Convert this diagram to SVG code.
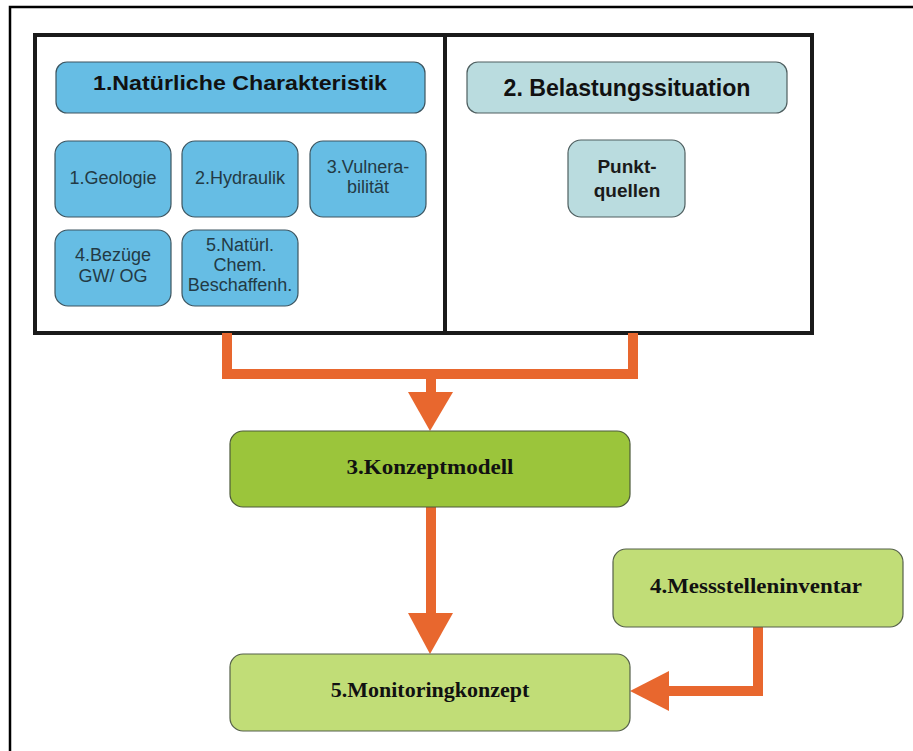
<svg xmlns="http://www.w3.org/2000/svg" width="913" height="751" viewBox="0 0 913 751">
<style>
.blue{fill:#66bde4;stroke:#3d5560;stroke-width:1.2}
.teal{fill:#badcdf;stroke:#4f5f60;stroke-width:1.2}
.green{fill:#9bc53b;stroke:#4d5a3a;stroke-width:1.2}
.lgreen{fill:#c1dd77;stroke:#55604a;stroke-width:1.2}
.hdr{font-family:"Liberation Sans",Arial,sans-serif;font-weight:bold;fill:#111;text-anchor:middle}
.sub{font-family:"Liberation Sans",Arial,sans-serif;font-size:18px;fill:#233a44;text-anchor:middle}
.pq{font-family:"Liberation Sans",Arial,sans-serif;font-weight:bold;font-size:19px;fill:#1a1a1a;text-anchor:middle}
.ser{font-family:"Liberation Serif","Times New Roman",serif;font-weight:bold;font-size:22px;fill:#111;text-anchor:middle}
.wire{fill:none;stroke:#e8672e;stroke-width:10;stroke-linejoin:miter}
.head{fill:#e8672e}
</style>
<rect width="913" height="751" fill="#ffffff"/>
<path d="M10,751 V7 H913" fill="none" stroke="#000" stroke-width="2.5"/>
<g id="frame">
<rect x="35" y="35" width="777" height="298" fill="#fff" stroke="#1a1a1a" stroke-width="4"/>
<line x1="445" y1="35" x2="445" y2="333" stroke="#1a1a1a" stroke-width="4"/>
</g>
<g id="connectors">
<polyline class="wire" points="227,333 227,374 633,374 633,333"/>
<line class="wire" x1="431" y1="374" x2="431" y2="394"/>
<polygon class="head" points="408,392 453,392 430,431"/>
<line class="wire" x1="431" y1="507" x2="431" y2="615"/>
<polygon class="head" points="408,613 453,613 430,654"/>
<polyline class="wire" points="758,627 758,691 667,691"/>
<polygon class="head" points="669,671 669,711 630,691"/>
</g>
<g id="n1">
<rect class="blue" x="56" y="62" width="369" height="51" rx="11"/>
<text class="hdr" x="240" y="90" font-size="21" textLength="294" lengthAdjust="spacingAndGlyphs">1.Natürliche Charakteristik</text>
</g>
<g id="n1a">
<rect class="blue" x="55" y="141" width="116" height="76" rx="13"/>
<text class="sub" x="113" y="184">1.Geologie</text>
</g>
<g id="n1b">
<rect class="blue" x="182" y="141" width="116" height="76" rx="13"/>
<text class="sub" x="240" y="184">2.Hydraulik</text>
</g>
<g id="n1c">
<rect class="blue" x="310" y="141" width="116" height="76" rx="13"/>
<text class="sub" x="368" y="173">3.Vulnera-</text>
<text class="sub" x="368" y="193">bilität</text>
</g>
<g id="n1d">
<rect class="blue" x="55" y="230" width="116" height="76" rx="13"/>
<text class="sub" x="113" y="261">4.Bezüge</text>
<text class="sub" x="113" y="282">GW/ OG</text>
</g>
<g id="n1e">
<rect class="blue" x="182" y="230" width="116" height="76" rx="13"/>
<text class="sub" x="240" y="251">5.Natürl.</text>
<text class="sub" x="240" y="271">Chem.</text>
<text class="sub" x="240" y="291">Beschaffenh.</text>
</g>
<g id="n2">
<rect class="teal" x="467" y="62" width="320" height="51" rx="11"/>
<text class="hdr" x="627" y="96" font-size="23" textLength="247" lengthAdjust="spacingAndGlyphs">2. Belastungssituation</text>
</g>
<g id="n2a">
<rect class="teal" x="568" y="140" width="117" height="77" rx="13"/>
<text class="pq" x="627" y="173">Punkt-</text>
<text class="pq" x="627" y="197">quellen</text>
</g>
<g id="n3">
<rect class="green" x="230" y="431" width="400" height="76" rx="13"/>
<text class="ser" x="430" y="474" textLength="167" lengthAdjust="spacingAndGlyphs">3.Konzeptmodell</text>
</g>
<g id="n4">
<rect class="lgreen" x="613" y="549" width="290" height="78" rx="13"/>
<text class="ser" x="756" y="593" textLength="212" lengthAdjust="spacingAndGlyphs">4.Messstelleninventar</text>
</g>
<g id="n5">
<rect class="lgreen" x="230" y="654" width="400" height="77" rx="13"/>
<text class="ser" x="430" y="697">5.Monitoringkonzept</text>
</g>
</svg>
